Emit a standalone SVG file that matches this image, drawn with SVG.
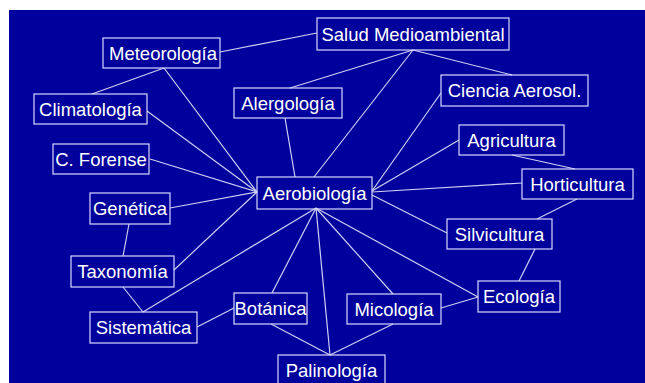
<svg xmlns="http://www.w3.org/2000/svg" width="645" height="383" viewBox="0 0 645 383">
<style>
.n rect{fill:none;stroke:#d8d8ff;stroke-width:1.2}
.n text{font-family:"Liberation Sans",Arial,sans-serif;font-size:18.5px;fill:#ffffff;text-anchor:middle}
#edges line{stroke:#cfcff5;stroke-width:1.2}
</style>
<rect x="0" y="0" width="645" height="383" fill="#ffffff"/>
<rect x="9" y="10" width="636" height="373" fill="#00009c"/>
<g id="edges">
<line x1="220" y1="52" x2="317" y2="33"/>
<line x1="164" y1="68" x2="92" y2="94"/>
<line x1="164" y1="68" x2="257" y2="192"/>
<line x1="147" y1="111" x2="257" y2="192"/>
<line x1="150" y1="159" x2="257" y2="192"/>
<line x1="285" y1="118" x2="295" y2="177"/>
<line x1="413" y1="50" x2="290" y2="88"/>
<line x1="413" y1="50" x2="314" y2="177"/>
<line x1="413" y1="50" x2="512" y2="75"/>
<line x1="441" y1="93" x2="372" y2="191"/>
<line x1="459" y1="140" x2="372" y2="191"/>
<line x1="512" y1="155" x2="575" y2="169"/>
<line x1="522" y1="183" x2="372" y2="192"/>
<line x1="372" y1="195" x2="447" y2="233"/>
<line x1="577" y1="199" x2="537" y2="219"/>
<line x1="535" y1="249" x2="519" y2="281"/>
<line x1="316" y1="208" x2="478" y2="297"/>
<line x1="316" y1="208" x2="393" y2="294"/>
<line x1="316" y1="208" x2="330" y2="355"/>
<line x1="441" y1="308" x2="478" y2="297"/>
<line x1="393" y1="324" x2="330" y2="355"/>
<line x1="271" y1="324" x2="330" y2="355"/>
<line x1="272" y1="293" x2="316" y2="208"/>
<line x1="143" y1="312" x2="316" y2="208"/>
<line x1="123" y1="287" x2="143" y2="312"/>
<line x1="129" y1="224" x2="123" y2="256"/>
<line x1="170" y1="208" x2="257" y2="192"/>
<line x1="174" y1="270" x2="257" y2="192"/>
<line x1="197" y1="327" x2="234" y2="308"/>
</g>
<g id="meteorologia" class="n"><rect x="103" y="38" width="117" height="30"/><text x="163" y="59.5">Meteorología</text></g>
<g id="salud" class="n"><rect x="317" y="18" width="192" height="32"/><text x="413" y="40.5">Salud Medioambiental</text></g>
<g id="climatologia" class="n"><rect x="34" y="94" width="113" height="30"/><text x="90.5" y="115.5">Climatología</text></g>
<g id="forense" class="n"><rect x="53" y="144" width="96" height="30"/><text x="101" y="165.5">C. Forense</text></g>
<g id="alergologia" class="n"><rect x="234" y="88" width="108" height="30"/><text x="288" y="109.5">Alergología</text></g>
<g id="aerobiologia" class="n"><rect x="257" y="177" width="115" height="32"/><text x="314.5" y="199.5">Aerobiología</text></g>
<g id="ciencia" class="n"><rect x="441" y="75" width="147" height="31"/><text x="514.5" y="97">Ciencia Aerosol.</text></g>
<g id="agricultura" class="n"><rect x="459" y="125" width="105" height="30"/><text x="511.5" y="146.5">Agricultura</text></g>
<g id="horticultura" class="n"><rect x="522" y="169" width="111" height="30"/><text x="577.5" y="190.5">Horticultura</text></g>
<g id="silvicultura" class="n"><rect x="447" y="219" width="105" height="30"/><text x="499.5" y="240.5">Silvicultura</text></g>
<g id="ecologia" class="n"><rect x="478" y="281" width="82" height="31"/><text x="519" y="303">Ecología</text></g>
<g id="micologia" class="n"><rect x="347" y="294" width="94" height="30"/><text x="394" y="315.5">Micología</text></g>
<g id="palinologia" class="n"><rect x="278" y="355" width="107" height="31"/><text x="331.5" y="377">Palinología</text></g>
<g id="botanica" class="n"><rect x="234" y="293" width="73" height="31"/><text x="270.5" y="315">Botánica</text></g>
<g id="sistematica" class="n"><rect x="90" y="312" width="107" height="31"/><text x="143.5" y="334">Sistemática</text></g>
<g id="taxonomia" class="n"><rect x="71" y="256" width="103" height="31"/><text x="122.5" y="278">Taxonomía</text></g>
<g id="genetica" class="n"><rect x="90" y="193" width="80" height="31"/><text x="130" y="215">Genética</text></g>
</svg>
